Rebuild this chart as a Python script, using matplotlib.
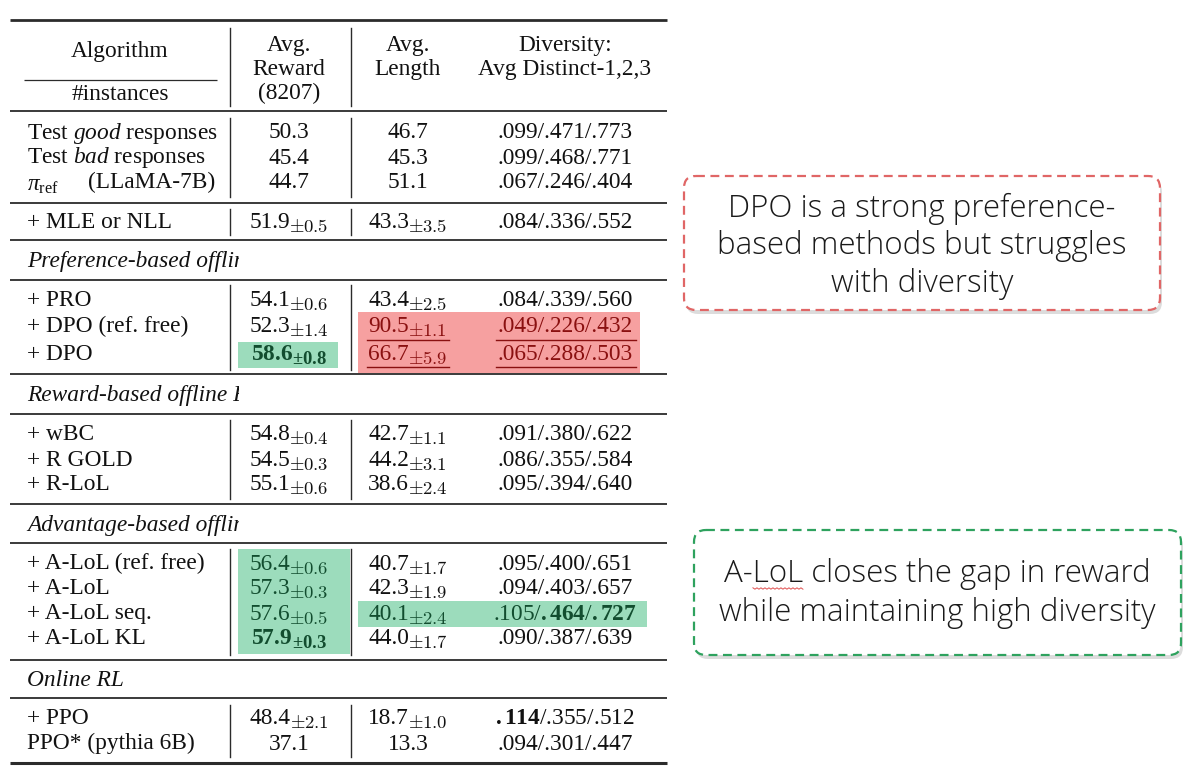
import matplotlib
matplotlib.use("Agg")
import matplotlib.pyplot as plt
from matplotlib.patches import Rectangle, FancyBboxPatch

plt.rcParams['mathtext.fontset'] = 'custom'
plt.rcParams['mathtext.rm'] = 'Liberation Serif'
plt.rcParams['mathtext.it'] = 'Liberation Serif:italic'
plt.rcParams['mathtext.bf'] = 'Liberation Serif:bold'

# ---------------- data ----------------
header_cols = ["Avg.\nReward\n(8207)", "Avg.\nLength", "Diversity:\nAvg Distinct-1,2,3"]

baseline_names = [r"Test $\mathit{good}$ responses", r"Test $\mathit{bad}$ responses"]
baseline_reward = ["50.3", "45.4", "44.7"]
baseline_length = ["46.7", "45.3", "51.1"]
baseline_div = [".099/.471/.773", ".099/.468/.771", ".067/.246/.404"]

sections = ["Preference-based offline RL", "Reward-based offline RL",
            "Advantage-based offline RL", "Online RL"]

mle_name = "+ MLE or NLL"
mle_reward, mle_reward_sd = "51.9", "0.5"
mle_length, mle_length_sd = "43.3", "3.5"
mle_div = ".084/.336/.552"

pref_names = ["+ PRO", "+ DPO (ref. free)", "+ DPO"]
pref_reward = ["54.1", "52.3", "58.6"]
pref_reward_sd = ["0.6", "1.4", "0.8"]
pref_length = ["43.4", "90.5", "66.7"]
pref_length_sd = ["2.5", "1.1", "5.9"]
pref_div = [".084/.339/.560", ".049/.226/.432", ".065/.288/.503"]

rew_names = ["+ wBC", "+ R GOLD", "+ R-LoL"]
rew_reward = ["54.8", "54.5", "55.1"]
rew_reward_sd = ["0.4", "0.3", "0.6"]
rew_length = ["42.7", "44.2", "38.6"]
rew_length_sd = ["1.1", "3.1", "2.4"]
rew_div = [".091/.380/.622", ".086/.355/.584", ".095/.394/.640"]

adv_names = ["+ A-LoL (ref. free)", "+ A-LoL", "+ A-LoL seq.", "+ A-LoL KL"]
adv_reward = ["56.4", "57.3", "57.6", "57.9"]
adv_reward_sd = ["0.6", "0.3", "0.5", "0.3"]
adv_length = ["40.7", "42.3", "40.1", "44.0"]
adv_length_sd = ["1.7", "1.9", "2.4", "1.7"]
adv_div = [".095/.400/.651", ".094/.403/.657",
           r".105/$\mathbf{.464}$/$\mathbf{.727}$", ".090/.387/.639"]

online_names = ["+ PPO", "PPO* (pythia 6B)"]
online_reward = ["48.4", "37.1"]
online_reward_sd = ["2.1", ""]
online_length = ["18.7", "13.3"]
online_length_sd = ["1.0", ""]
online_div = [r"$\mathbf{.114}$/.355/.512", ".094/.301/.447"]

note_red = "DPO is a strong preference-\nbased methods but struggles\nwith diversity"
note_green = "A-LoL closes the gap in reward\nwhile maintaining high diversity"

# ---------------- layout ----------------
W, H = 1200, 777
fig = plt.figure(figsize=(12, 7.77), dpi=100)
ax = fig.add_axes([0, 0, 1, 1])
ax.set_xlim(0, W)
ax.set_ylim(H, 0)
ax.axis('off')
R = fig.canvas.get_renderer()

FS = 16.8
SUB = FS * 0.8
BASE = 7.5          # baseline offset below digit centre (px)
SERIF = 'Liberation Serif'
LC = '#2b2b2b'
INK = '#111111'
DKG = '#124d2f'
DKR = '#8a1010'
X_L, X_R = 10, 667
X_NAME = 27
X_V1, X_V2 = 230, 351
X_REW, X_LEN, X_DIV = 289, 408, 565


def hrule(y, lw=1.3, x0=X_L, x1=X_R):
    ax.plot([x0, x1], [y, y], color=LC, lw=lw, solid_capstyle='butt')


def vrules(y0, y1):
    for x in (X_V1, X_V2):
        ax.plot([x, x], [y0, y1], color=LC, lw=1.0)


def put(x, y, s, ha='center', color=INK, mff='custom', **kw):
    return ax.text(x, y + BASE, s, ha=ha, va='baseline', fontsize=FS,
                   family=SERIF, color=color, math_fontfamily=mff, **kw)


def num(xc, y, v, sd, bold=False, color=INK):
    main = r"$\mathbf{%s}$" % v if bold else v
    t1 = ax.text(0, y + BASE, main, ha='left', va='baseline',
                 fontsize=FS, family=SERIF, color=color,
                 math_fontfamily='custom' if bold else 'cm')
    w1 = t1.get_window_extent(R).width
    w2 = 0
    t2 = None
    if sd:
        s = (r"$\mathbf{\pm %s}$" if bold else r"$\pm %s$") % sd
        t2 = ax.text(0, y + BASE + 4, s, ha='left', va='baseline',
                     fontsize=SUB, family=SERIF, color=color,
                     math_fontfamily='custom' if bold else 'cm')
        w2 = t2.get_window_extent(R).width - 1
    left = xc - (w1 + w2) / 2
    t1.set_x(left)
    if t2 is not None:
        t2.set_x(left + w1 - 1)


def section(y, label):
    put(X_NAME, y, label, ha='left', style='italic')
    ax.add_patch(Rectangle((239, y - 14), X_R - 239, 28, color='white',
                           lw=0, zorder=5))


# header
hrule(20, lw=2.0)
put(120, 50, "Algorithm")
hrule(80, lw=0.9, x0=24, x1=217)
put(120, 92, "#instances")
for i, t in enumerate(header_cols[0].split("\n")):
    put(X_REW, 43 + 24.5 * i, t)
for i, t in enumerate(header_cols[1].split("\n")):
    put(X_LEN, 43 + 24.5 * i, t)
for i, t in enumerate(header_cols[2].split("\n")):
    put(X_DIV, 43 + 24.5 * i, t)
vrules(28, 106)
hrule(111)

# baselines
ys = [131, 156, 181]
for i, y in enumerate(ys):
    if i < 2:
        put(X_NAME, y, baseline_names[i], ha='left')
    else:
        put(X_NAME, y + 2, r"$\pi_{\mathrm{ref}}$", ha='left')
        put(88, y, "(LLaMA-7B)", ha='left')
    put(X_REW, y, baseline_reward[i])
    put(X_LEN, y, baseline_length[i])
    put(X_DIV, y, baseline_div[i])
vrules(118, 197)
hrule(203)

# MLE
put(X_NAME, 221, mle_name, ha='left')
num(X_REW, 221, mle_reward, mle_reward_sd)
num(X_LEN, 221, mle_length, mle_length_sd)
put(X_DIV, 221, mle_div)
vrules(209, 235)
hrule(240)

# preference block
section(259, sections[0])
hrule(280)
ys = [298, 325, 352]
ax.add_patch(Rectangle((238, 342), 100, 26, color='#9cdcbc', lw=0, zorder=0))
ax.add_patch(Rectangle((358, 312), 282, 61, color='#f6a0a0', lw=0, zorder=0))
for i, y in enumerate(ys):
    put(X_NAME, y, pref_names[i], ha='left')
    best = pref_reward[i] == max(pref_reward)
    num(X_REW, y, pref_reward[i], pref_reward_sd[i], bold=best,
        color=DKG if best else INK)
    bad = i > 0
    c = DKR if bad else INK
    num(X_LEN, y, pref_length[i], pref_length_sd[i], color=c)
    put(X_DIV, y, pref_div[i], color=c)
    if bad:
        ax.plot([367, 449], [y + 15, y + 15], color=DKR, lw=1.0)
        ax.plot([496, 636], [y + 15, y + 15], color=DKR, lw=1.0)
vrules(285, 370)
hrule(374)

# reward block
section(393, sections[1])
hrule(414)
ys = [433, 458, 483]
for i, y in enumerate(ys):
    put(X_NAME, y, rew_names[i], ha='left')
    num(X_REW, y, rew_reward[i], rew_reward_sd[i])
    num(X_LEN, y, rew_length[i], rew_length_sd[i])
    put(X_DIV, y, rew_div[i])
vrules(420, 499)
hrule(504)

# advantage block
section(523, sections[2])
hrule(543)
ys = [562, 587, 612, 637]
ax.add_patch(Rectangle((238, 549), 112, 105, color='#9cdcbc', lw=0, zorder=0))
ax.add_patch(Rectangle((358, 601), 289, 26, color='#9cdcbc', lw=0, zorder=0))
for i, y in enumerate(ys):
    put(X_NAME, y, adv_names[i], ha='left')
    best = adv_reward[i] == max(adv_reward)
    num(X_REW, y, adv_reward[i], adv_reward_sd[i], bold=best, color=DKG)
    seq = i == 2
    num(X_LEN, y, adv_length[i], adv_length_sd[i], color=DKG if seq else INK)
    put(X_DIV, y, adv_div[i], color=DKG if seq else INK)
vrules(549, 655)
hrule(660)

# online block
section(679, sections[3])
hrule(698)
ys = [717, 742]
for i, y in enumerate(ys):
    put(X_NAME, y, online_names[i], ha='left')
    num(X_REW, y, online_reward[i], online_reward_sd[i])
    num(X_LEN, y, online_length[i], online_length_sd[i])
    put(X_DIV, y, online_div[i])
vrules(705, 757)
hrule(763, lw=2.2)


# annotation boxes
def note(x0, y0, w, h, ec, text, lines_y0, dy):
    sh = FancyBboxPatch((x0 + 2, y0 + 4), w, h,
                        boxstyle="round,pad=0,rounding_size=12",
                        fc='#d4d4d4', ec='none', zorder=1, alpha=0.8)
    ax.add_patch(sh)
    bx = FancyBboxPatch((x0, y0), w, h, boxstyle="round,pad=0,rounding_size=12",
                        fc='white', ec=ec, lw=1.6, ls=(0, (4, 2.5)), zorder=2)
    ax.add_patch(bx)
    ts = []
    for i, ln in enumerate(text.split("\n")):
        ts.append(ax.text(x0 + w / 2, lines_y0 + dy * i, ln, ha='center',
                          va='center', fontsize=22.5, family='Open Sans',
                          fontweight='light', color='#1a1a1a', zorder=3))
    return ts


note(684, 176, 476, 134, '#e06666', note_red, 209, 37.5)
gts = note(694, 530, 487, 125, '#2ea25e', note_green, 574, 39)

# spell-check squiggle under "LoL" in the green note
t0 = gts[0]
bb = t0.get_window_extent(R)
probe = ax.text(0, 0, "A-", fontsize=22.5, family='Open Sans', fontweight='light')
wa = probe.get_window_extent(R).width
probe.set_text("A-LoL")
wb = probe.get_window_extent(R).width
probe.remove()
xs0 = bb.x0 + wa
xs1 = bb.x0 + wb
n = int((xs1 - xs0) / 2)
zx = [xs0 + 2 * k for k in range(n + 1)]
zy = [588 + (1.2 if k % 2 else -0.2) for k in range(n + 1)]
ax.plot(zx, zy, color='#e05050', lw=0.7, zorder=4)

fig.savefig("out.png", dpi=100, facecolor='white')
